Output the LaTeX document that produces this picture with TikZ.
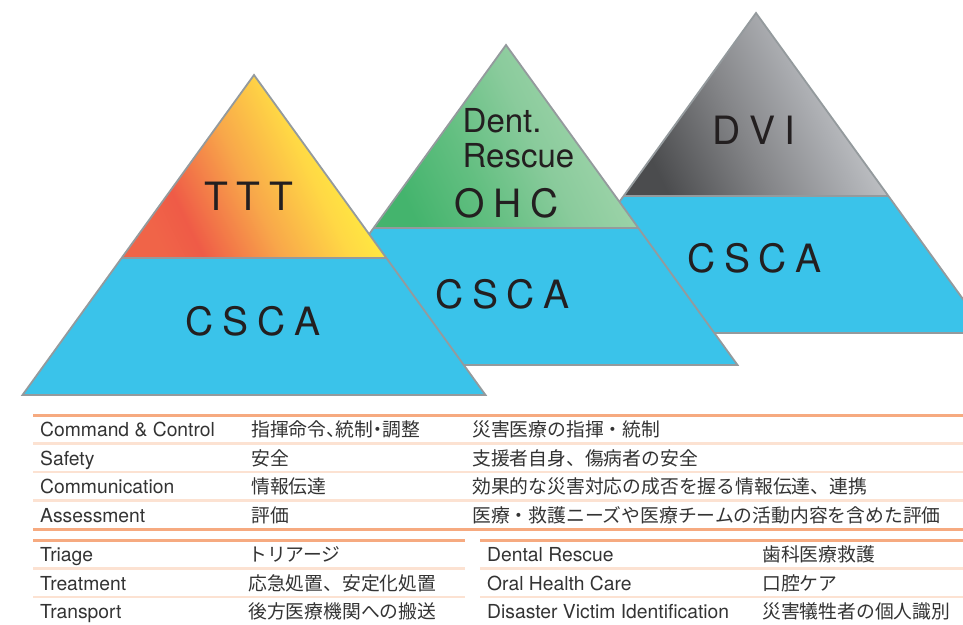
\documentclass[tikz,border=0pt]{standalone}
\usepackage{fontspec}
\setmainfont{TeX Gyre Heros}
\newfontfamily\pyrfont{TeX Gyre Heros}
\newfontfamily\jpfont{Noto Sans CJK JP}
\definecolor{cscablue}{HTML}{3AC3EA}
\definecolor{outlinegray}{HTML}{949A9D}
\definecolor{ink}{HTML}{231F20}
\definecolor{tabink}{HTML}{333333}
\definecolor{rulestrong}{HTML}{F6AA80}
\definecolor{rulelight}{HTML}{FCE2D2}
\definecolor{tA}{HTML}{F06448}
\definecolor{tB}{HTML}{EF5B47}
\definecolor{tC}{HTML}{F8A74A}
\definecolor{tD}{HTML}{FFD845}
\definecolor{tE}{HTML}{FFF03F}
\definecolor{gA}{HTML}{44B46D}
\definecolor{gB}{HTML}{63BF81}
\definecolor{gC}{HTML}{8ACB9C}
\definecolor{gD}{HTML}{A7D8B0}
\definecolor{dA}{HTML}{4B4C4E}
\definecolor{dB}{HTML}{858689}
\definecolor{dC}{HTML}{ABADB1}
\definecolor{dD}{HTML}{D2D4D7}
\pgfdeclarehorizontalshading{tttshade}{100bp}{color(0bp)=(tA); color(25bp)=(tA); color(32bp)=(tB); color(47bp)=(tC); color(60bp)=(tD); color(70bp)=(tE); color(100bp)=(tE)}
\pgfdeclarehorizontalshading{ohcshade}{100bp}{color(0bp)=(gA); color(25bp)=(gA); color(40bp)=(gB); color(55bp)=(gC); color(75bp)=(gD); color(100bp)=(gD)}
\pgfdeclarehorizontalshading{dvishade}{100bp}{color(0bp)=(dA); color(25bp)=(dA); color(45bp)=(dB); color(60bp)=(dC); color(75bp)=(dD); color(100bp)=(dD)}
\newcommand\ls{\kern8.6pt}
\newcommand\drawpyr[3]{%
  \path[fill=cscablue] (#1-231.5,#2+320) -- (#1-132.4,#2+183) -- (#1+132.4,#2+183) -- (#1+231.5,#2+320) -- cycle;
  \path[shading=#3,shading angle=26] (#1,#2) -- (#1-132.4,#2+183) -- (#1+132.4,#2+183) -- cycle;
  \draw[outl] (#1,#2) -- (#1-231.5,#2+320) -- (#1+231.5,#2+320) -- cycle
    (#1-132.4,#2+183) -- (#1+132.4,#2+183);
}
\begin{document}
\begin{tikzpicture}[x=1pt,y=-1pt,
  outl/.style={draw=outlinegray,line width=1.8pt,line join=miter},
  plabel/.style={anchor=base,inner sep=0pt,text=ink,font=\pyrfont\fontsize{39}{39}\selectfont},
  dlabel/.style={anchor=base west,inner sep=0pt,text=ink,font=\pyrfont\fontsize{33}{33}\selectfont},
  strongrule/.style={draw=rulestrong,line width=3pt},
  lightrule/.style={draw=rulelight,line width=2.5pt},
  en/.style={anchor=base west,inner sep=0pt,text=tabink,font=\fontsize{19.3}{20}\selectfont},
  ja/.style={anchor=base west,inner sep=0pt,text=tabink,font=\jpfont\fontsize{18.8}{20}\selectfont}]
\useasboundingbox (0,0) rectangle (963,624);
% pyramids (back to front)
\drawpyr{756}{13}{dvishade}
\drawpyr{506}{45}{ohcshade}
\drawpyr{254}{75}{tttshade}
\node[plabel] (dvi) at (754,144) {D\ls V\ls I};
\node[plabel] (cscaC) at (754.5,272) {C\ls S\ls C\ls A};
\node[dlabel] (dent) at (462.5,132) {Dent.};
\node[dlabel] (rescue) at (462.5,167) {Rescue};
\node[plabel] (ohc) at (506.5,217) {O\ls H\ls C};
\node[plabel] (cscaB) at (502.5,308) {C\ls S\ls C\ls A};
\node[plabel] (ttt) at (248.5,210) {T\ls T\ls T};
\node[plabel] (cscaA) at (253,335) {C\ls S\ls C\ls A};
% upper table rules
\draw[strongrule] (33,415) -- (963,415);
\draw[lightrule] (33,443.5) -- (963,443.5);
\draw[lightrule] (33,472) -- (963,472);
\draw[lightrule] (33,500.5) -- (963,500.5);
\draw[strongrule] (33,529) -- (963,529);
% lower tables rules
\draw[strongrule] (33,540) -- (465,540);
\draw[lightrule] (33,568.5) -- (465,568.5);
\draw[lightrule] (33,597) -- (465,597);
\draw[strongrule] (480,540) -- (963,540);
\draw[lightrule] (480,568.5) -- (963,568.5);
\draw[lightrule] (480,597) -- (963,597);
% upper table text
\node[en] (r1a) at (40,436) {Command \& Control};
\node[ja] (r1b) at (251,436) {指揮命令、\kern-.5em 統制\kern-.25em・\kern-.25em 調整};
\node[ja] (r1c) at (472,436) {災害医療の指揮・統制};
\node[en] (r2a) at (40,465) {Safety};
\node[ja] (r2b) at (251,465) {安全};
\node[ja] (r2c) at (472,465) {支援者自身、傷病者の安全};
\node[en] (r3a) at (40,493) {Communication};
\node[ja] (r3b) at (251,493) {情報伝達};
\node[ja] (r3c) at (472,493) {効果的な災害対応の成否を握る情報伝達、連携};
\node[en] (r4a) at (40,522) {Assessment};
\node[ja] (r4b) at (251,522) {評価};
\node[ja] (r4c) at (472,522) {医療・救護ニーズや医療チームの活動内容を含めた評価};
% lower left table text
\node[en] (s1a) at (40,561) {Triage};
\node[ja] (s1b) at (248,561) {トリアージ};
\node[en] (s2a) at (40,590) {Treatment};
\node[ja] (s2b) at (248,590) {応急処置、安定化処置};
\node[en] (s3a) at (40,618) {Transport};
\node[ja] (s3b) at (248,618) {後方医療機関への搬送};
% lower right table text
\node[en] (t1a) at (487,561) {Dental Rescue};
\node[ja] (t1b) at (762,561) {歯科医療救護};
\node[en] (t2a) at (487,590) {Oral Health Care};
\node[ja] (t2b) at (762,590) {口腔ケア};
\node[en] (t3a) at (487,618) {Disaster Victim Identification};
\node[ja] (t3b) at (762,618) {災害犠牲者の個人識別};
\end{tikzpicture}
\end{document}
